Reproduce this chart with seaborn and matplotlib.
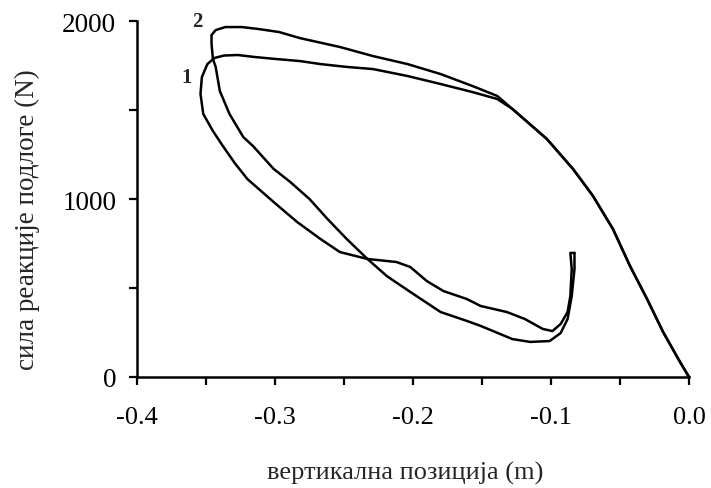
import numpy as np
import pandas as pd
import matplotlib
matplotlib.use("Agg")
import matplotlib.pyplot as plt
import seaborn as sns
from matplotlib.ticker import MultipleLocator

# vertical position (m) and ground reaction force (N)
pos_1 = [0.000, -0.0065, -0.0188, -0.0304, -0.0428, -0.0551, -0.0696, -0.0841, -0.103, -0.128,
         -0.139, -0.157, -0.180, -0.204, -0.229, -0.248, -0.267, -0.282, -0.300, -0.315, -0.327,
         -0.337, -0.344, -0.349, -0.353, -0.354, -0.352, -0.345, -0.338, -0.329, -0.320, -0.301,
         -0.284, -0.267, -0.253, -0.233, -0.212, -0.202, -0.190, -0.178, -0.161, -0.151, -0.132,
         -0.119, -0.106, -0.099, -0.093, -0.088, -0.086, -0.085, -0.086, -0.083]
force_1 = [0, 84, 253, 438, 624, 831, 1017, 1169, 1337, 1506,
           1562, 1601, 1646, 1691, 1730, 1742, 1758, 1775, 1787, 1798, 1809,
           1806, 1792, 1758, 1685, 1590, 1478, 1382, 1300, 1200, 1112, 983,
           871, 775, 702, 663, 646, 618, 539, 483, 438, 399, 365,
           326, 270, 258, 298, 365, 455, 607, 697, 697]

pos_2 = [0.000, -0.0065, -0.0188, -0.0304, -0.0428, -0.0551, -0.0696, -0.0841, -0.103, -0.128,
         -0.139, -0.157, -0.180, -0.204, -0.229, -0.253, -0.282, -0.297, -0.312, -0.324, -0.336,
         -0.343, -0.346, -0.346, -0.345, -0.343, -0.340, -0.333, -0.323, -0.316, -0.301, -0.289,
         -0.275, -0.262, -0.248, -0.233, -0.219, -0.202, -0.180, -0.161, -0.151, -0.137, -0.128,
         -0.115, -0.101, -0.093, -0.088, -0.085, -0.083, -0.083]
force_2 = [0, 84, 253, 438, 624, 831, 1017, 1169, 1337, 1506,
           1579, 1635, 1702, 1758, 1803, 1854, 1904, 1938, 1955, 1966, 1966,
           1949, 1921, 1871, 1787, 1742, 1607, 1478, 1348, 1298, 1169, 1096,
           1000, 888, 775, 663, 567, 478, 365, 315, 287, 242, 213,
           197, 202, 247, 326, 455, 607, 697]

x_ticks = [-0.4, -0.3, -0.2, -0.1, 0.0]
y_ticks = [0, 1000, 2000]

df = pd.concat([
    pd.DataFrame({"pos": pos_1, "force": force_1, "curve": "1"}),
    pd.DataFrame({"pos": pos_2, "force": force_2, "curve": "2"}),
])

sns.set_style("ticks")
plt.rcParams["font.family"] = ["Liberation Serif", "DejaVu Serif"]

fig = plt.figure(figsize=(7.11, 4.89), dpi=100)
ax = fig.add_axes([0.1927, 0.227, 0.7764, 0.728])

sns.lineplot(data=df, x="pos", y="force", hue="curve", units="curve", estimator=None,
             sort=False, palette=["black", "black"], linewidth=1.8, legend=False, ax=ax,
             solid_joinstyle="round", clip_on=False)

ax.set_xlim(-0.4, 0.0)
ax.set_ylim(0, 2000)
ax.set_xticks(x_ticks)
ax.set_xticklabels([f"{t:.1f}" for t in x_ticks])
ax.set_yticks(y_ticks)
ax.xaxis.set_minor_locator(MultipleLocator(0.05))
ax.yaxis.set_minor_locator(MultipleLocator(500))
ax.tick_params(axis="both", which="both", direction="out", length=6, width=1.6, colors="black")
ax.tick_params(axis="x", which="major", labelsize=19, pad=15)
ax.tick_params(axis="y", which="major", labelsize=19.5, pad=9)

sns.despine(ax=ax)
for s in ["left", "bottom"]:
    ax.spines[s].set_linewidth(1.8)
    ax.spines[s].set_color("black")

ax.set_xlabel("вертикална позиција (m)", fontsize=19)
ax.set_ylabel("сила реакције подлоге (N)", fontsize=19.5)
ax.xaxis.set_label_coords(0.486, -0.268)
ax.xaxis.label.set_va("center")
ax.yaxis.set_label_coords(-0.199, 0.444)
ax.yaxis.label.set_va("center")

ax.text(-0.356, 2000, "2", fontsize=15, fontweight="bold", ha="center", va="center")
ax.text(-0.364, 1685, "1", fontsize=15, fontweight="bold", ha="center", va="center")

fig.savefig("out.png", dpi=100)
